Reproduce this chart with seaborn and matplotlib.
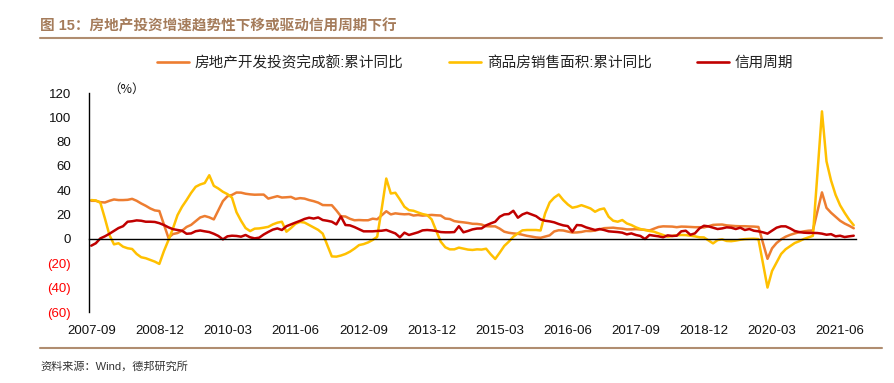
import numpy as np
import pandas as pd
import matplotlib
matplotlib.use('Agg')
import matplotlib.pyplot as plt
import seaborn as sns
from matplotlib.lines import Line2D

# ------------------------------------------------
# 数据：月度，2007-09 ~ 2021-09（按年分行）
# ------------------------------------------------
start_month = '2007-09'

invest = [
    31.4, 31.4, 30.3, 30.0,                                               # 2007
    31.4, 32.5, 32.0, 32.0, 32.2, 33.0, 31.4, 29.2, 27.3, 25.1, 23.5, 23.0,  # 2008
    12.0, 1.0, 4.1, 4.9, 6.8, 9.9, 11.6, 14.7, 17.7, 18.9, 17.8, 16.1,    # 2009
    23.6, 31.1, 35.1, 36.2, 38.2, 38.1, 37.2, 36.7, 36.4, 36.5, 36.5, 33.2,  # 2010
    34.2, 35.2, 34.1, 34.3, 34.6, 32.9, 33.6, 33.2, 32.0, 31.1, 29.9, 27.9,  # 2011
    27.8, 27.8, 23.5, 18.7, 18.5, 16.6, 15.4, 15.6, 15.4, 15.4, 16.7, 16.2,  # 2012
    19.5, 22.8, 20.2, 21.1, 20.6, 20.3, 20.5, 19.3, 19.7, 19.2, 19.5, 19.8,  # 2013
    19.5, 19.3, 16.8, 16.4, 14.7, 14.1, 13.7, 13.2, 12.5, 12.4, 11.9, 10.5,  # 2014
    10.4, 10.4, 8.5, 6.0, 5.1, 4.6, 4.3, 3.5, 2.6, 2.0, 1.3, 1.0,        # 2015
    2.0, 3.0, 6.2, 7.2, 7.0, 6.1, 5.3, 5.4, 5.8, 6.6, 6.5, 6.9,          # 2016
    7.9, 8.9, 9.1, 9.3, 8.8, 8.5, 7.9, 7.9, 8.1, 7.8, 7.5, 7.0,          # 2017
    8.5, 9.9, 10.4, 10.3, 10.2, 9.7, 10.2, 10.1, 9.9, 9.7, 9.7, 9.5,     # 2018
    10.5, 11.6, 11.8, 11.9, 11.2, 10.9, 10.6, 10.5, 10.5, 10.3, 10.2, 9.9,  # 2019
    -3.2, -16.3, -7.7, -3.3, -0.3, 1.9, 3.4, 4.6, 5.6, 6.3, 6.8, 7.0,    # 2020
    22.6, 38.3, 25.6, 21.6, 18.3, 15.0, 12.7, 10.9, 8.8,                 # 2021
]

sales = [
    32.0, 31.7, 29.8, 17.0,
    3.3, -4.4, -3.5, -6.3, -7.6, -8.2, -12.3, -15.0, -15.8, -17.2, -18.6, -20.5,
    -10.0, -1.0, 8.7, 19.6, 26.5, 32.0, 37.9, 42.9, 44.8, 46.0, 52.4, 43.7,
    41.5, 38.8, 36.9, 34.0, 22.0, 15.0, 9.0, 6.5, 8.5, 8.7, 9.3, 10.0,
    12.0, 13.4, 14.2, 6.0, 9.0, 12.5, 14.0, 13.5, 11.5, 9.5, 7.5, 4.4,
    -5.0, -14.3, -14.5, -13.6, -12.3, -10.4, -7.9, -5.0, -4.2, -2.8, -0.8, 1.8,
    25.0, 49.7, 37.4, 38.0, 32.5, 26.5, 23.7, 23.2, 21.8, 20.5, 19.7, 16.1,
    6.8, -2.2, -6.8, -8.5, -8.5, -7.1, -7.9, -8.7, -9.0, -8.5, -8.7, -8.0,
    -12.5, -16.4, -11.2, -5.7, -2.2, 1.9, 4.6, 7.1, 7.4, 7.4, 7.4, 7.0,
    21.0, 30.0, 34.0, 36.6, 32.0, 28.4, 25.7, 26.5, 27.8, 26.5, 25.1, 22.4,
    24.3, 25.1, 18.3, 15.0, 14.2, 15.6, 12.8, 11.5, 9.6, 8.2, 7.4, 6.6,
    6.0, 4.6, 3.3, 1.9, 2.5, 3.0, 3.3, 3.2, 2.7, 2.2, 1.4, 1.3,
    -1.2, -3.6, -0.9, -0.3, -1.6, -1.8, -1.3, -0.6, -0.1, 0.1, 0.2, -0.1,
    -20.0, -39.9, -26.3, -19.3, -12.3, -8.4, -5.8, -3.3, -1.8, 0.0, 1.3, 2.6,
    54.0, 104.9, 63.8, 48.1, 36.3, 27.7, 21.5, 15.9, 11.3,
]

credit = [
    -5.5, -3.5, 0.5, 2.2,
    4.3, 6.7, 9.0, 10.5, 14.2, 14.6, 15.3, 15.0, 14.2, 14.2, 14.0, 13.0,
    11.5, 9.6, 8.1, 7.4, 6.8, 4.3, 4.6, 6.4, 7.0, 6.3, 5.7, 4.3,
    2.5, -0.3, 2.2, 2.7, 2.5, 1.9, 3.3, 1.4, 0.5, 1.1, 3.7, 5.8,
    7.7, 8.7, 7.4, 10.5, 12.0, 13.5, 14.9, 16.5, 17.5, 16.8, 17.7, 15.6,
    15.0, 14.2, 12.0, 18.5, 11.5, 11.2, 9.8, 8.0, 6.3, 6.3, 6.3, 6.6,
    6.8, 7.4, 6.0, 4.6, 1.4, 5.2, 3.3, 4.4, 5.5, 7.1, 7.4, 7.1,
    6.6, 5.7, 5.5, 5.5, 5.7, 10.5, 5.5, 6.6, 7.9, 8.6, 8.7, 11.2,
    12.8, 14.2, 18.3, 20.2, 20.5, 23.2, 17.5, 20.2, 21.6, 20.2, 18.8, 16.1,
    15.0, 14.5, 13.7, 12.3, 11.2, 10.6, 6.0, 11.5, 11.2, 9.6, 8.5, 7.4,
    8.2, 7.4, 6.3, 6.0, 5.7, 5.2, 3.8, 4.6, 3.3, 2.5, 0.0, 3.3,
    2.7, 2.2, 1.4, 3.0, 2.5, 2.7, 6.3, 6.8, 3.5, 4.6, 8.7, 10.9,
    10.4, 9.3, 8.2, 8.7, 9.6, 9.3, 8.2, 9.3, 7.4, 8.2, 6.8, 6.3,
    5.5, 4.4, 6.8, 9.3, 10.4, 10.4, 8.7, 6.6, 5.7, 5.2, 5.0, 5.0,
    4.9, 4.4, 3.5, 4.0, 2.2, 2.7, 1.6, 2.2, 2.7,
]

series_names = ['房地产开发投资完成额:累计同比', '商品房销售面积:累计同比', '信用周期']
colors = ['#ED7D31', '#FFC000', '#C00000']

tick_labels = ['2007-09', '2008-12', '2010-03', '2011-06', '2012-09', '2013-12', '2015-03',
               '2016-06', '2017-09', '2018-12', '2020-03', '2021-06']
y_ticks = [-60, -40, -20, 0, 20, 40, 60, 80, 100, 120]

# ------------------------------------------------
# 整理成长表
# ------------------------------------------------
months = pd.period_range(start_month, periods=len(invest), freq='M').strftime('%Y-%m')
df = pd.DataFrame({'idx': np.arange(len(months)), 'month': months,
                   series_names[0]: invest, series_names[1]: sales, series_names[2]: credit})
long_df = df.melt(id_vars=['idx', 'month'], var_name='series', value_name='value')

tick_pos = [list(months).index(t) for t in tick_labels]

# ------------------------------------------------
# 绘图
# ------------------------------------------------
sns.set_style('white')
plt.rcParams['font.family'] = ['Liberation Sans', 'Noto Sans CJK SC']
plt.rcParams['axes.unicode_minus'] = False

W, H = 895, 383
fig = plt.figure(figsize=(W / 100, H / 100), dpi=100)
ax = fig.add_axes([89 / W, 1 - 312 / H, (856 - 89) / W, (312 - 93) / H])

sns.lineplot(data=long_df, x='idx', y='value', hue='series', hue_order=series_names,
             palette=colors, linewidth=1.8, legend=False, errorbar=None, ax=ax)

ax.set_xlim(-0.5, len(months) - 0.5)
ax.set_ylim(-60, 120)
ax.set_xlabel('')
ax.set_ylabel('')

for s in ['top', 'right']:
    ax.spines[s].set_visible(False)
ax.spines['bottom'].set_position(('data', 0))
for s in ['left', 'bottom']:
    ax.spines[s].set_color('black')
    ax.spines[s].set_linewidth(1.0)

# x 轴：标签放在底部，刻度线挂在 0 轴上
ax.set_xticks(tick_pos)
ax.set_xticklabels(tick_labels)
ax.set_xticks([p - 0.5 for p in tick_pos], minor=True)
ax.tick_params(axis='x', which='major', length=0, pad=62, labelsize=9.5, labelcolor='#111111')
ax.tick_params(axis='x', which='minor', length=4, width=1, direction='out', color='black')

# y 轴：负数用括号红字
ax.set_yticks(y_ticks)
ax.set_yticklabels([f'({abs(v)})' if v < 0 else f'{v}' for v in y_ticks])
ax.tick_params(axis='y', length=4, width=1, direction='out', color='black', pad=9, labelsize=9.5)
for v, lbl in zip(y_ticks, ax.get_yticklabels()):
    lbl.set_color('#FF0000' if v < 0 else '#111111')

fig.text(108 / W, 1 - 89 / H, '（%）', fontsize=9, color='#111111', va='center', ha='left',
         family=['Noto Sans CJK SC', 'DejaVu Sans'])

# 图例
handles = [Line2D([0], [0], color=c, lw=1.9) for c in colors]
fig.legend(handles, series_names, loc='center left', bbox_to_anchor=(157 / W, 1 - 62.7 / H),
           ncol=3, frameon=False, fontsize=10.5, handlelength=2.2, handletextpad=0.4,
           columnspacing=3.1, borderpad=0, borderaxespad=0, labelcolor='#222222')

# 标题、分隔线、来源
brown = '#A57C5B'
fig.text(40 / W, 1 - 26 / H, '图 15：房地产投资增速趋势性下移或驱动信用周期下行',
         fontsize=10.5, fontweight='bold', color=brown, va='center', ha='left')
fig.add_artist(Line2D([40 / W, 882 / W], [1 - 38 / H, 1 - 38 / H], color='#B08D70', lw=1.5,
                      transform=fig.transFigure))
fig.add_artist(Line2D([40 / W, 882 / W], [1 - 348 / H, 1 - 348 / H], color='#B08D70', lw=1.5,
                      transform=fig.transFigure))
fig.text(40 / W, 1 - 366 / H, '资料来源：Wind，德邦研究所', fontsize=8, color='#333333',
         va='center', ha='left')

fig.savefig('out.png', dpi=100)
